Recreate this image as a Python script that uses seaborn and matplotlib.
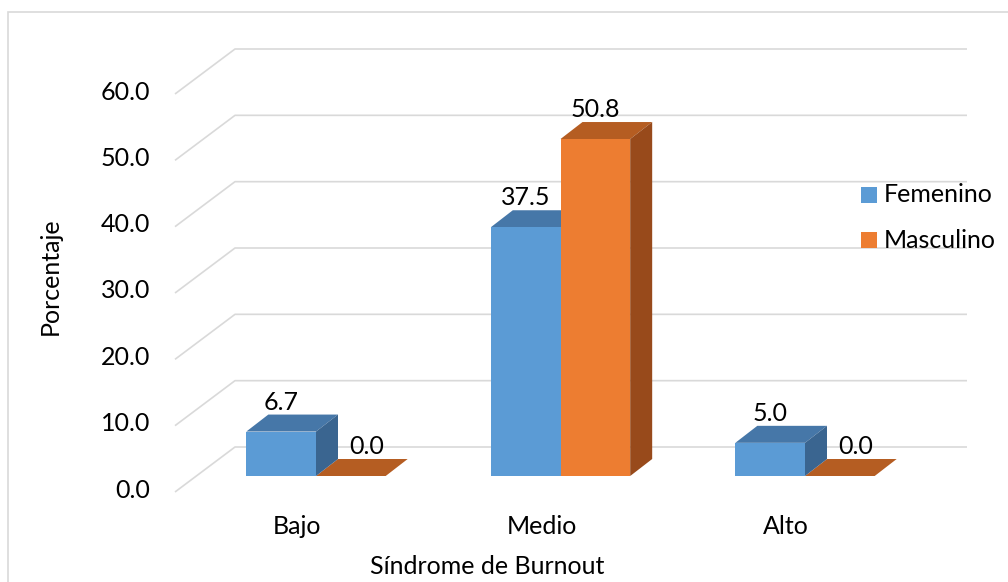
import matplotlib
matplotlib.use("Agg")
import matplotlib.pyplot as plt
from matplotlib.patches import Polygon, Rectangle
import seaborn as sns
import pandas as pd

niveles = ["Bajo", "Medio", "Alto"]
sexos = ["Femenino", "Masculino"]
femenino = [6.7, 37.5, 5.0]
masculino = [0.0, 50.8, 0.0]
y_ticks = [0, 10, 20, 30, 40, 50, 60]

front_colors = ["#5B9BD5", "#ED7D31"]
top_colors = ["#4677A8", "#B55D22"]
side_colors = ["#3A6590", "#984A1B"]
grid_color = "#D9D9D9"

W, H = 1008, 582
DX, DY = 22, 17  # depth of the 3D bars in pixels

df = pd.DataFrame({
    "nivel": niveles * 2,
    "sexo": [sexos[0]] * 3 + [sexos[1]] * 3,
    "pct": femenino + masculino,
})

sns.set_style("white")
plt.rcParams["font.family"] = ["Lato", "DejaVu Sans"]
FS = 18

fig = plt.figure(figsize=(W / 100, H / 100), dpi=100)

# background overlay in pixel coordinates
bg = fig.add_axes([0, 0, 1, 1])
bg.set_xlim(0, W)
bg.set_ylim(H, 0)
bg.set_axis_off()

# main data axes: 0 at y=476px, 60 at y=78px; categories at 316 / 560 / 805 px
x_lo, x_hi = -0.6, 2.6
px0, step = 316, 244.5
left = px0 + x_lo * step
right = px0 + x_hi * step
ax = fig.add_axes([left / W, (H - 476) / H, (right - left) / W, 398 / H])
sns.barplot(data=df, x="nivel", y="pct", hue="sexo", order=niveles,
            hue_order=sexos, palette=front_colors, width=0.57,
            saturation=1, errorbar=None, legend=False, linewidth=0, ax=ax)
ax.set_xlim(x_lo, x_hi)
ax.set_ylim(0, 60)
ax.set_axis_off()


def to_px(x, y):
    dx, dy = ax.transData.transform((x, y))
    return dx, H - dy


# back-wall gridlines with the diagonal floor/side-wall edge
for v in y_ticks:
    _, yb = to_px(0, v)
    yback = yb - 29
    bg.plot([175, 235, 967], [yback + 45, yback, yback],
            color=grid_color, lw=1.2, solid_capstyle="butt", zorder=1)
    bg.text(150, yback + 43, f"{v:.1f}", ha="right", va="center",
            fontsize=FS, color="black")

# 3D tops and sides + value labels
for i, cont in enumerate(ax.containers):
    z = 0.8 if i == 0 else 0.5
    for rect, val in zip(cont.patches, cont.datavalues):
        x0 = rect.get_x()
        x1 = x0 + rect.get_width()
        ax0, ayt = to_px(x0, rect.get_height())
        ax1, ayb = to_px(x1, 0)
        top = Polygon([(ax0, ayt), (ax1, ayt), (ax1 + DX, ayt - DY),
                       (ax0 + DX, ayt - DY)], closed=True,
                      facecolor=top_colors[i], edgecolor="none",
                      transform=bg.transData, clip_on=False, zorder=z)
        side = Polygon([(ax1, ayt), (ax1 + DX, ayt - DY),
                        (ax1 + DX, ayb - DY), (ax1, ayb)], closed=True,
                       facecolor=side_colors[i], edgecolor="none",
                       transform=bg.transData, clip_on=False, zorder=z)
        ax.add_patch(top)
        ax.add_patch(side)
        cx = (ax0 + ax1) / 2 + (16 if val == 0 else 0)
        bg.text(cx, ayt - DY - 1, f"{val:.1f}", ha="center", va="bottom",
                fontsize=FS, color="black", zorder=5)

# category labels (front edge of the floor)
for j, name in enumerate(niveles):
    cx, _ = to_px(j, 0)
    bg.text(cx - 19, 527, name, ha="center", va="center", fontsize=FS,
            color="black")

bg.text(487, 566, "Síndrome de Burnout", ha="center", va="center",
        fontsize=FS, color="black")
bg.text(50, 276, "Porcentaje", ha="center", va="center", rotation=90,
        fontsize=FS, color="black")

# legend
for k, (name, col) in enumerate(zip(sexos, front_colors)):
    yc = 195 + 45 * k
    bg.add_patch(Rectangle((861, yc - 8), 16, 16, facecolor=col,
                           edgecolor="none"))
    bg.text(884, yc, name, ha="left", va="center", fontsize=FS,
            color="black")

# chart area border
bg.plot([8, 8, W], [H, 12, 12], color=grid_color, lw=1.2,
        solid_joinstyle="miter")

fig.savefig("out.png", dpi=100)
plt.close(fig)
